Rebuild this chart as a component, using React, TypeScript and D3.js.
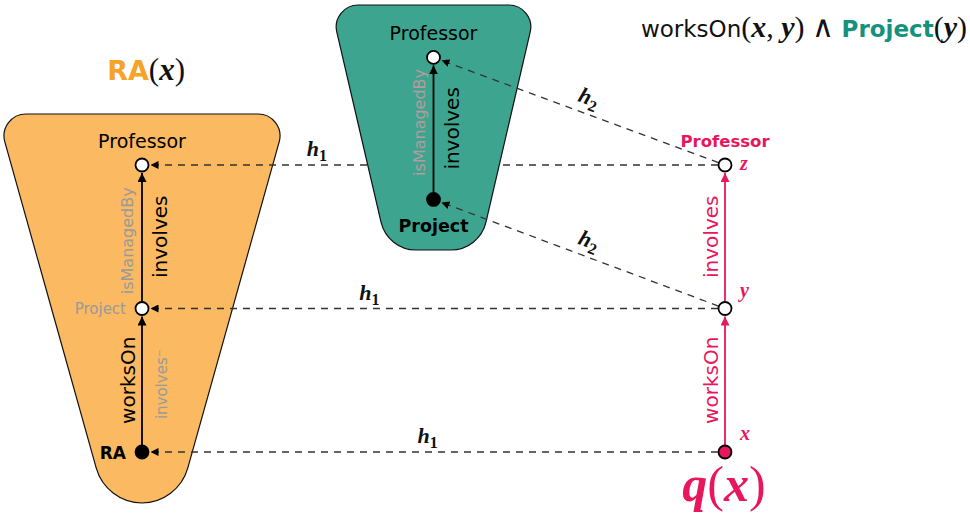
import React from "react";
import * as d3 from "d3";

// ---------- data ----------
const columns = ["ra", "concept", "query"];
const nodeIds = ["raX", "raY", "raZ", "cY", "cZ", "qX", "qY", "qZ"];
const nodeColumn = ["ra", "ra", "ra", "concept", "concept", "query", "query", "query"];
const nodeLevel = [0, 1, 2, 1.76, 2.75, 0, 1, 2];
const nodeKind = ["named", "anon", "anon", "named", "anon", "answer", "anon", "anon"];

// solid role edges: from, to, main label, secondary label
const roleFrom = ["raX", "raY", "cY", "qX", "qY"];
const roleTo = ["raY", "raZ", "cZ", "qY", "qZ"];
const roleLabel = ["worksOn", "involves", "involves", "worksOn", "involves"];
const roleAltLabel = ["involves⁻", "isManagedBy", "isManagedBy", "", ""];

// homomorphism mappings
const mapFrom = ["qZ", "qY", "qX", "qZ", "qY"];
const mapTo = ["raZ", "raY", "raX", "cZ", "cY"];
const mapName = ["h1", "h1", "h1", "h2", "h2"];
const mapLabelT = [0.7, 0.61, 0.51, 0.486, 0.486];

// node captions
const raCaptions = ["RA", "Project", "Professor"];
const conceptCaptions = ["Project", "Professor"];
const queryVars = ["x", "y", "z"];

// ---------- style ----------
const SANS = "'DejaVu Sans', sans-serif";
const SERIF = "'Liberation Serif', 'DejaVu Serif', serif";
const ORANGE_FILL = "#FBB961";
const ORANGE_TEXT = "#F6A428";
const TEAL_FILL = "#3DA58F";
const TEAL_TEXT = "#16917B";
const CRIMSON = "#E8175D";
const GRAY = "#9a9a9a";
const R = 7;

const xScale = d3.scalePoint<string>().domain(columns).range([142, 725]);
const yScale = d3.scaleLinear().domain([0, 2]).range([452, 165]);

const pos = (id: string) => {
  const i = nodeIds.indexOf(id);
  return { x: xScale(nodeColumn[i])!, y: yScale(nodeLevel[i]), kind: nodeKind[i] };
};

function roundedPolygon(pts: [number, number][], radii: number[]) {
  const p = d3.path();
  const n = pts.length;
  const last = pts[n - 1];
  const first = pts[0];
  p.moveTo((last[0] + first[0]) / 2, (last[1] + first[1]) / 2);
  for (let i = 0; i < n; i++) {
    const c = pts[i];
    const nx = pts[(i + 1) % n];
    p.arcTo(c[0], c[1], nx[0], nx[1], radii[i]);
  }
  p.closePath();
  return p.toString();
}

function shorten(a: { x: number; y: number }, b: { x: number; y: number }, ra: number, rb: number) {
  const dx = b.x - a.x, dy = b.y - a.y;
  const L = Math.hypot(dx, dy);
  return {
    x1: a.x + (dx / L) * ra,
    y1: a.y + (dy / L) * ra,
    x2: b.x - (dx / L) * rb,
    y2: b.y - (dy / L) * rb,
  };
}

export default function App() {
  const cx = xScale("ra")!;
  const tx = xScale("concept")!;
  const orange = roundedPolygon(
    [[cx - 145, 114], [cx + 145, 114], [cx + 36, 503], [cx - 36, 503]],
    [22, 22, 48, 48]
  );
  const teal = roundedPolygon(
    [[tx - 103, 5], [tx + 103, 5], [tx + 46, 250], [tx - 46, 250]],
    [22, 22, 36, 36]
  );

  const maps = mapFrom.map((f, i) => {
    const a = pos(f), b = pos(mapTo[i]);
    const s = shorten(a, b, R, R + 1.5);
    const t = mapLabelT[i];
    const mx = a.x + (b.x - a.x) * t;
    const my = a.y + (b.y - a.y) * t;
    const ang = (Math.atan2(a.y - b.y, a.x - b.x) * 180) / Math.PI;
    return { ...s, name: mapName[i], mx, my, ang, i };
  });

  const dashedLine = (m: any) => (
    <line key={"m" + m.i} x1={m.x1} y1={m.y1} x2={m.x2} y2={m.y2}
      stroke="#333" strokeWidth={1.3} strokeDasharray="7,6" markerEnd="url(#hd)" />
  );
  const hLabel = (m: any) => (
    <text key={"ml" + m.i} transform={`translate(${m.mx},${m.my}) rotate(${m.ang}) translate(0,-9)`}
      textAnchor="middle" fontFamily={SERIF} fontStyle="italic" fontWeight="bold" fontSize={22} fill="#111">
      h<tspan fontStyle="normal" fontSize={16} dy={5}>{m.name.slice(1)}</tspan>
    </text>
  );

  return (
    <svg width={970} height={514} style={{ position: "absolute", left: 0, top: 0 }}>
      <defs>
        <marker id="ha" viewBox="0 0 10 10" refX={10} refY={5} markerWidth={9} markerHeight={9}
          markerUnits="userSpaceOnUse" orient="auto">
          <path d="M0,0 L10,5 L0,10 z" fill="#000" />
        </marker>
        <marker id="hc" viewBox="0 0 10 10" refX={10} refY={5} markerWidth={9} markerHeight={9}
          markerUnits="userSpaceOnUse" orient="auto">
          <path d="M0,0 L10,5 L0,10 z" fill={CRIMSON} />
        </marker>
        <marker id="hd" viewBox="0 0 10 10" refX={10} refY={5} markerWidth={8} markerHeight={8}
          markerUnits="userSpaceOnUse" orient="auto">
          <path d="M0,0 L10,5 L0,10 z" fill="#000" />
        </marker>
      </defs>
      <rect width={970} height={514} fill="#fff" />

      {/* orange RA model */}
      <path d={orange} fill={ORANGE_FILL} stroke="#111" strokeWidth={1.2} />
      <text x={185} y={80} textAnchor="end" fontFamily={SANS} fontWeight="bold" fontSize={27}>
        <tspan fill={ORANGE_TEXT}>RA</tspan>
        <tspan fontFamily={SERIF} fontSize={31} fontWeight="normal" fill="#111">(</tspan>
        <tspan fontFamily={SERIF} fontSize={31} fontStyle="italic" fill="#111">x</tspan>
        <tspan fontFamily={SERIF} fontSize={31} fontWeight="normal" fill="#111">)</tspan>
      </text>

      {/* h1 mappings (behind teal shape) */}
      {maps.filter((m) => m.name === "h1").map(dashedLine)}
      {maps.filter((m) => m.name === "h1").map(hLabel)}

      {/* teal concept */}
      <path d={teal} fill={TEAL_FILL} stroke="#111" strokeWidth={1.2} />

      {/* h2 mappings */}
      {maps.filter((m) => m.name === "h2").map(dashedLine)}
      {maps.filter((m) => m.name === "h2").map(hLabel)}

      {/* role edges */}
      {roleFrom.map((f, i) => {
        const a = pos(f), b = pos(roleTo[i]);
        const s = shorten(a, b, R, R + 1);
        const isQ = nodeColumn[nodeIds.indexOf(f)] === "query";
        const col = isQ ? CRIMSON : "#000";
        const my = (a.y + b.y) / 2;
        const alt = roleAltLabel[i];
        const isLowRA = f === "raX";
        const mainLeft = isQ || isLowRA;
        const mainX = mainLeft ? a.x - 7 : a.x + 25;
        const altX = mainLeft ? a.x + 25 : a.x - 9;
        return (
          <g key={"r" + i}>
            <line {...s} stroke={col} strokeWidth={1.8} markerEnd={isQ ? "url(#hc)" : "url(#ha)"} />
            <text transform={`translate(${mainX},${my}) rotate(-90)`} textAnchor="middle"
              fontFamily={SANS} fontSize={20} fill={col}>{roleLabel[i]}</text>
            {alt && (
              <text transform={`translate(${altX},${f === "cY" ? my - 6 : my + 4}) rotate(-90)`} textAnchor="middle"
                fontFamily={SANS} fontSize={f === "raX" ? 15 : 16} fill={f === "cY" ? "#c99aa0" : GRAY}
                opacity={f === "cY" ? 0.85 : 1}>{alt}</text>
            )}
          </g>
        );
      })}

      {/* nodes */}
      {nodeIds.map((id) => {
        const p = pos(id);
        const fill = p.kind === "named" ? "#000" : p.kind === "answer" ? CRIMSON : "#fff";
        return <circle key={id} cx={p.x} cy={p.y} r={R - 0.5} fill={fill} stroke="#000" strokeWidth={1.8} />;
      })}

      {/* RA captions */}
      <text x={pos("raX").x - 16} y={pos("raX").y + 7} textAnchor="end" fontFamily={SANS}
        fontWeight="bold" fontSize={17}>{raCaptions[0]}</text>
      <text x={pos("raY").x - 16} y={pos("raY").y + 5} textAnchor="end" fontFamily={SANS}
        fontSize={15} fill={GRAY}>{raCaptions[1]}</text>
      <text x={pos("raZ").x} y={pos("raZ").y - 17} textAnchor="middle" fontFamily={SANS}
        fontSize={19}>{raCaptions[2]}</text>

      {/* concept captions */}
      <text x={pos("cY").x} y={pos("cY").y + 33} textAnchor="middle" fontFamily={SANS}
        fontWeight="bold" fontSize={17.5}>{conceptCaptions[0]}</text>
      <text x={pos("cZ").x} y={pos("cZ").y - 17} textAnchor="middle" fontFamily={SANS}
        fontSize={19}>{conceptCaptions[1]}</text>

      {/* query captions */}
      <text x={pos("qZ").x} y={pos("qZ").y - 18} textAnchor="middle" fontFamily={SANS}
        fontWeight="bold" fontSize={16.5} fill={CRIMSON}>Professor</text>
      {["qX", "qY", "qZ"].map((id, i) => {
        const p = pos(id);
        return (
          <text key={"v" + id} x={p.x + 15} y={i === 2 ? p.y + 5 : p.y - 12} fontFamily={SERIF}
            fontStyle="italic" fontWeight="bold" fontSize={20} fill={CRIMSON}>{queryVars[i]}</text>
        );
      })}
      <text x={pos("qX").x - 1} y={501} textAnchor="middle" fontFamily={SERIF} fontSize={50} fill={CRIMSON}>
        <tspan fontStyle="italic" fontWeight="bold">q</tspan>
        <tspan>(</tspan>
        <tspan fontStyle="italic" fontWeight="bold">x</tspan>
        <tspan>)</tspan>
      </text>

      {/* formula */}
      <text x={967} y={37} textAnchor="end" fontFamily={SANS} fontSize={23} fill="#111">
        <tspan>worksOn</tspan>
        <tspan fontFamily={SERIF} fontSize={30}>(</tspan>
        <tspan fontFamily={SERIF} fontSize={30} fontStyle="italic" fontWeight="bold">x</tspan>
        <tspan fontFamily={SERIF} fontSize={30}>, </tspan>
        <tspan fontFamily={SERIF} fontSize={30} fontStyle="italic" fontWeight="bold">y</tspan>
        <tspan fontFamily={SERIF} fontSize={30}>) ∧ </tspan>
        <tspan fontWeight="bold" fill={TEAL_TEXT}>Project</tspan>
        <tspan fontFamily={SERIF} fontSize={30}>(</tspan>
        <tspan fontFamily={SERIF} fontSize={30} fontStyle="italic" fontWeight="bold">y</tspan>
        <tspan fontFamily={SERIF} fontSize={30}>)</tspan>
      </text>
    </svg>
  );
}
